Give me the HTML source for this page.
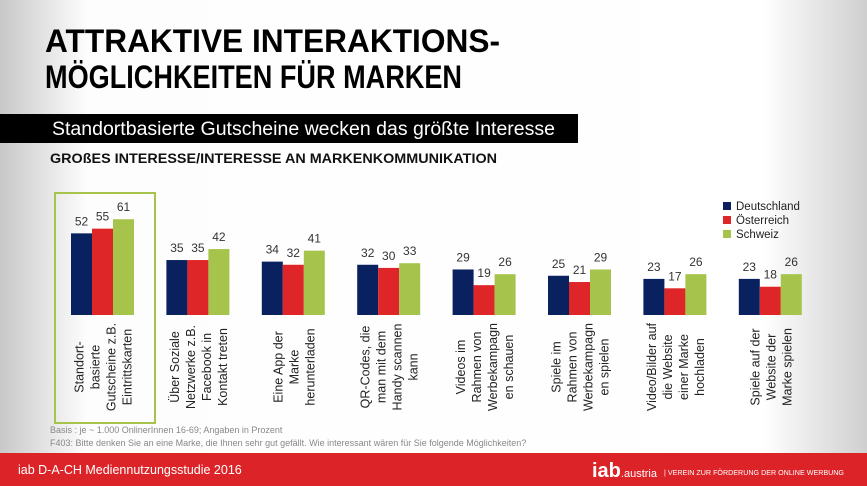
<!DOCTYPE html>
<html><head><meta charset="utf-8"><style>
html,body{margin:0;padding:0;width:867px;height:486px;overflow:hidden;}
svg{display:block;font-family:"Liberation Sans",sans-serif;}
</style></head><body>
<svg id="chart" width="867" height="486" viewBox="0 0 867 486">
<defs>
<linearGradient id="bg" x1="0" x2="1" y1="0" y2="0">
<stop offset="0" stop-color="#c8c8c8"/><stop offset="0.1" stop-color="#fdfdfd"/><stop offset="0.88" stop-color="#ffffff"/><stop offset="1" stop-color="#cfcfcf"/>
</linearGradient>
</defs>
<rect width="867" height="486" fill="url(#bg)"/>
<text x="45" y="52" font-size="32" font-weight="bold" fill="#000" textLength="455" lengthAdjust="spacingAndGlyphs">ATTRAKTIVE INTERAKTIONS-</text>
<text x="45" y="88" font-size="32" font-weight="bold" fill="#000" textLength="417" lengthAdjust="spacingAndGlyphs">MÖGLICHKEITEN FÜR MARKEN</text>
<rect x="0" y="114" width="578" height="29" fill="#000"/>
<text x="52" y="135" font-size="19" fill="#fff" textLength="503" lengthAdjust="spacingAndGlyphs">Standortbasierte Gutscheine wecken das größte Interesse</text>
<text x="50" y="163" font-size="13.5" font-weight="bold" fill="#111" textLength="447" lengthAdjust="spacingAndGlyphs">GROßES INTERESSE/INTERESSE AN MARKENKOMMUNIKATION</text>
<rect x="55" y="193" width="100" height="230" fill="none" stroke="#a6c44c" stroke-width="2"/>
<g id="bars"></g>
<g id="labels"></g>
<g id="legend"></g>
<text x="50" y="433" font-size="9" fill="#888">Basis : je ~ 1.000 OnlinerInnen 16-69; Angaben in Prozent</text>
<text x="50" y="446" font-size="9" fill="#888">F403:  Bitte denken Sie an eine Marke, die Ihnen sehr gut gefällt. Wie interessant wären für Sie folgende Möglichkeiten?</text>
<rect x="0" y="453" width="867" height="33" fill="#dc2428"/>
<text x="18" y="474" font-size="12.5" fill="#fff">iab D-A-CH Mediennutzungsstudie 2016</text>
<text x="592" y="477" font-size="20" font-weight="bold" fill="#fff">iab<tspan font-size="11" font-weight="normal">.austria</tspan></text>
<text x="664" y="475" font-size="7" fill="#fff" textLength="180" lengthAdjust="spacingAndGlyphs">| VEREIN ZUR FÖRDERUNG DER ONLINE WERBUNG</text>
</svg>
<script>
const categories=[["Standort-","basierte","Gutscheine z.B.","Eintrittskarten"],["Über Soziale","Netzwerke z.B.","Facebook in","Kontakt treten"],["Eine App der","Marke","herunterladen"],["QR-Codes, die","man mit dem","Handy scannen","kann"],["Videos im","Rahmen von","Werbekampagn","en schauen"],["Spiele im","Rahmen von","Werbekampagn","en spielen"],["Video/Bilder auf","die Website","einer Marke","hochladen"],["Spiele auf der","Website der","Marke spielen"]];
const deutschland=[52,35,34,32,29,25,23,23];
const oesterreich=[55,35,32,30,19,21,17,18];
const schweiz=[61,42,41,33,26,29,26,26];
const seriesNames=["Deutschland","Österreich","Schweiz"];
const colors=["#0a2160","#de2528","#a6c44c"];
const series=[deutschland,oesterreich,schweiz];
const NS="http://www.w3.org/2000/svg";
const baseY=315, scale=1.57, x0=71, step=95.4, bw=21;
function yPos(v){return baseY-v*scale;}
function gx(i){return x0+i*step;}
const bars=document.getElementById('bars'), labels=document.getElementById('labels'), legend=document.getElementById('legend');
series.forEach((s,si)=>{s.forEach((v,i)=>{
  const r=document.createElementNS(NS,'rect');
  r.setAttribute('x',gx(i)+si*bw);r.setAttribute('y',yPos(v));r.setAttribute('width',bw);r.setAttribute('height',baseY-yPos(v));r.setAttribute('fill',colors[si]);
  
  
  bars.appendChild(r);
  const t=document.createElementNS(NS,'text');
  t.setAttribute('x',gx(i)+si*bw+bw/2);t.setAttribute('y',yPos(v)-8);t.setAttribute('text-anchor','middle');t.setAttribute('font-size','12');t.setAttribute('fill','#333');
  t.textContent=v;
  
  
  bars.appendChild(t);
});});
categories.forEach((lines,i)=>{
  const cx=gx(i)+1.5*bw, n=lines.length;
  lines.forEach((ln,li)=>{
    const x=cx+(li-(n-1)/2)*16+5;
    const t=document.createElementNS(NS,'text');
    t.setAttribute('transform','translate('+x+',367) rotate(-90)');
    t.setAttribute('text-anchor','middle');t.setAttribute('font-size','12.5');t.setAttribute('fill','#222');
    t.textContent=ln;
    
    
    labels.appendChild(t);
  });
});
seriesNames.forEach((nm,si)=>{
  const r=document.createElementNS(NS,'rect');
  r.setAttribute('x',723);r.setAttribute('y',202+si*14);r.setAttribute('width',8);r.setAttribute('height',8);r.setAttribute('fill',colors[si]);
  
  
  legend.appendChild(r);
  const t=document.createElementNS(NS,'text');
  t.setAttribute('x',736);t.setAttribute('y',210+si*14);t.setAttribute('font-size','11.5');t.setAttribute('fill','#222');
  t.textContent=nm;
  
  
  legend.appendChild(t);
});
</script>
</body></html>
